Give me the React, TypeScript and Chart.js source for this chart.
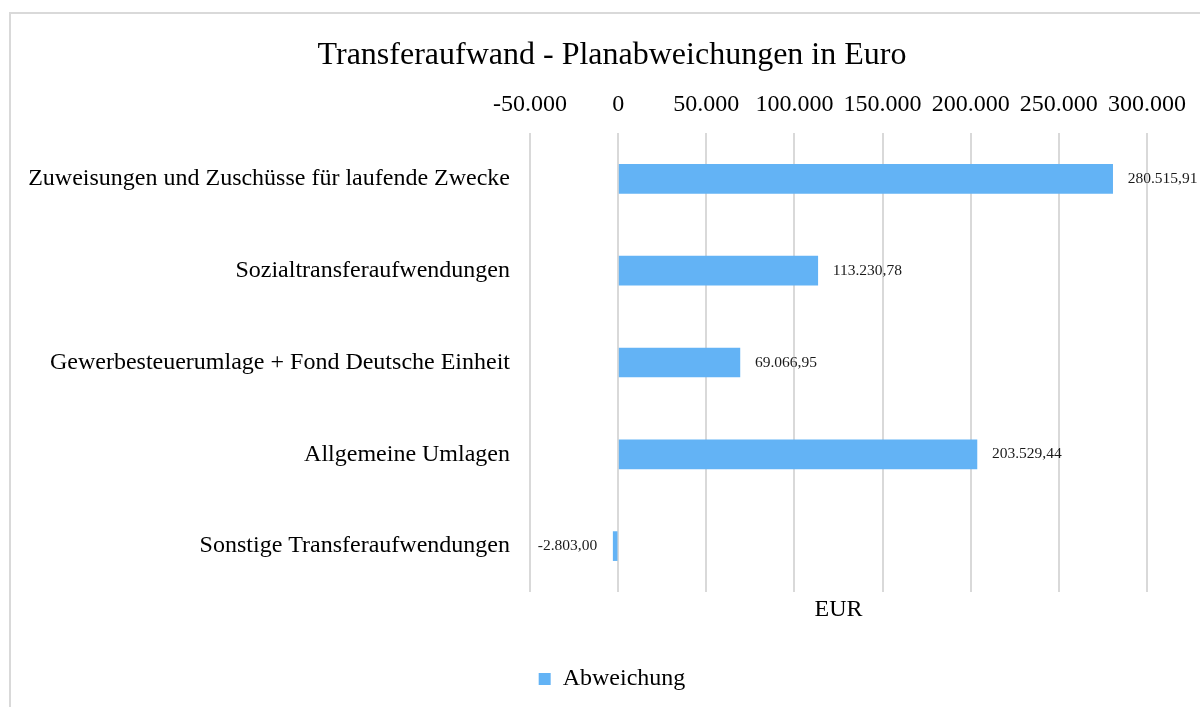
import React, { useEffect, useRef } from "react";
import { Chart, registerables } from "chart.js";

Chart.register(...registerables);

const categories = [
  "Zuweisungen und Zuschüsse für laufende Zwecke",
  "Sozialtransferaufwendungen",
  "Gewerbesteuerumlage + Fond Deutsche Einheit",
  "Allgemeine Umlagen",
  "Sonstige Transferaufwendungen",
];
const abweichung = [280515.91, 113230.78, 69066.95, 203529.44, -2803.0];
const seriesName = "Abweichung";
const chartTitle = "Transferaufwand - Planabweichungen in Euro";
const axisTitle = "EUR";
const xMin = -50000;
const xMax = 300000;
const xStep = 50000;

const FONT = "'Liberation Serif', 'Times New Roman', serif";
const BAR = "#63b3f5";
const CANVAS_W = 1224;
const CANVAS_H = 707;

function groupThousands(intPart: string): string {
  return intPart.replace(/\B(?=(\d{3})+(?!\d))/g, ".");
}
function fmtTick(v: number): string {
  const neg = v < 0;
  const s = groupThousands(Math.round(Math.abs(v)).toString());
  return (neg ? "-" : "") + s;
}
function fmtValue(v: number): string {
  const neg = v < 0;
  const fixed = Math.abs(v).toFixed(2);
  const [i, d] = fixed.split(".");
  return (neg ? "-" : "") + groupThousands(i) + "," + d;
}

const valueLabels = {
  id: "valueLabels",
  afterDatasetsDraw(chart: any) {
    const ctx = chart.ctx;
    const meta = chart.getDatasetMeta(0);
    const data = chart.data.datasets[0].data as number[];
    ctx.save();
    ctx.font = `15.5px ${FONT}`;
    ctx.fillStyle = "#1a1a1a";
    ctx.textBaseline = "middle";
    meta.data.forEach((bar: any, i: number) => {
      const v = data[i];
      const text = fmtValue(v);
      if (v >= 0) {
        ctx.textAlign = "left";
        ctx.fillText(text, bar.x + 15, bar.y);
      } else {
        ctx.textAlign = "right";
        ctx.fillText(text, bar.x - 16, bar.y);
      }
    });
    ctx.restore();
  },
};

export default function App() {
  const ref = useRef<HTMLCanvasElement | null>(null);
  useEffect(() => {
    if (!ref.current) return;
    const chart = new Chart(ref.current, {
      type: "bar",
      data: {
        labels: categories,
        datasets: [
          {
            label: seriesName,
            data: abweichung,
            backgroundColor: BAR,
            borderWidth: 0,
            barThickness: 29,
          },
        ],
      },
      options: {
        indexAxis: "y",
        responsive: false,
        animation: false,
        layout: { padding: { left: 0, right: 0, top: 0, bottom: 6 } },
        plugins: {
          title: {
            display: true,
            text: chartTitle,
            color: "#000",
            font: { family: FONT, size: 32, weight: "normal" },
            padding: { top: 36, bottom: 0 },
          },
          legend: {
            position: "bottom",
            labels: {
              color: "#000",
              font: { family: FONT, size: 24 },
              boxWidth: 12,
              boxHeight: 12,
              padding: 10,
            },
          },
          tooltip: { enabled: false },
        },
        scales: {
          x: {
            type: "linear",
            position: "top",
            min: xMin,
            max: xMax,
            ticks: {
              stepSize: xStep,
              color: "#000",
              font: { family: FONT, size: 24 },
              padding: 14,
              callback: (v: any) => fmtTick(Number(v)),
              maxRotation: 0,
            },
            grid: { color: "#d9d9d9", lineWidth: 2, drawTicks: false },
            border: { display: false },
            afterFit: (s: any) => {
              s.height = 58.6;
            },
          },
          x2: {
            type: "linear",
            position: "bottom",
            min: xMin,
            max: xMax,
            ticks: { display: false },
            grid: { display: false, drawTicks: false },
            border: { display: false },
            title: {
              display: true,
              text: axisTitle,
              color: "#000",
              font: { family: FONT, size: 24 },
              padding: { top: 0, bottom: 32.6 },
            },
            afterFit: (s: any) => {
              s.height = 65;
            },
          },
          y: {
            ticks: {
              color: "#000",
              font: { family: FONT, size: 24 },
              padding: 20,
            },
            grid: { display: false, drawTicks: false },
            border: { display: false },
            afterFit: (s: any) => {
              s.width = 530;
            },
          },
          y2: {
            position: "right",
            ticks: { display: false },
            grid: { display: false, drawTicks: false },
            border: { display: false },
            afterFit: (s: any) => {
              s.width = 77;
            },
          },
        },
      },
      plugins: [valueLabels],
    });
    return () => chart.destroy();
  }, []);

  return (
    <div
      style={{
        position: "fixed",
        left: 0,
        top: 0,
        width: 1200,
        height: 707,
        overflow: "hidden",
        background: "#fff",
      }}
    >
      <div
        style={{
          position: "absolute",
          left: 9,
          top: 12,
          width: 1300,
          height: 800,
          border: "2px solid #d9d9d9",
          boxSizing: "border-box",
        }}
      />
      <canvas
        ref={ref}
        width={CANVAS_W}
        height={CANVAS_H}
        style={{ position: "absolute", left: 0, top: 0, width: CANVAS_W, height: CANVAS_H }}
      />
    </div>
  );
}
